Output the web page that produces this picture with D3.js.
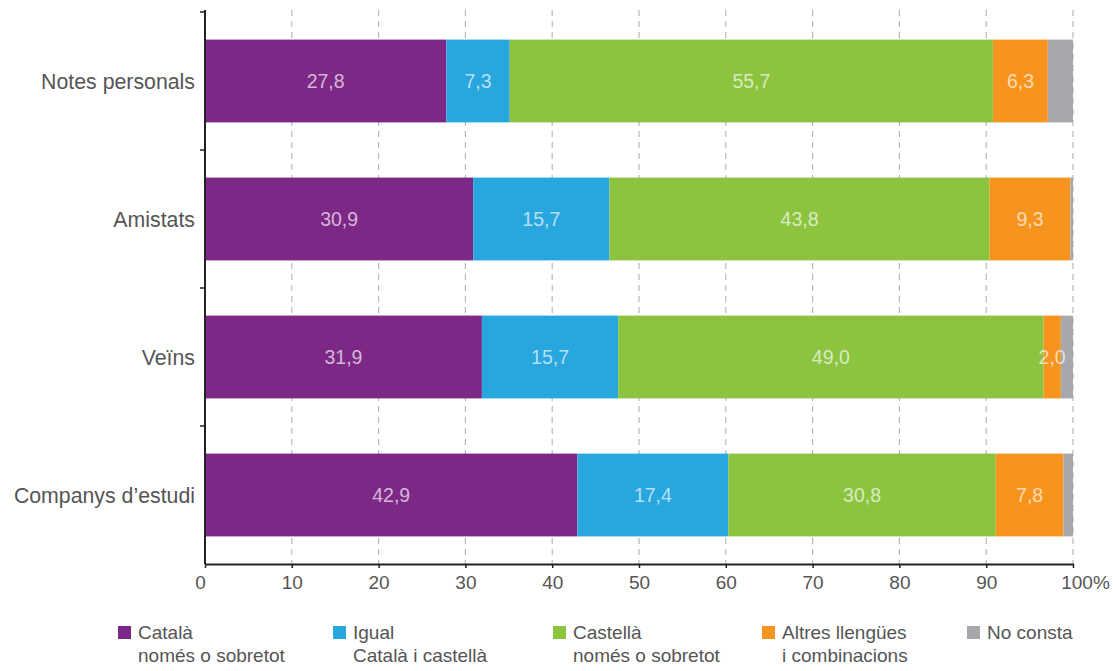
<!DOCTYPE html>
<html>
<head>
<meta charset="utf-8">
<script src="https://cdn.jsdelivr.net/npm/d3@7"></script>
<style>
  html, body { margin: 0; padding: 0; background: #fff; }
  svg { display: block; font-family: "Liberation Sans", Arial, Helvetica, sans-serif; }
</style>
</head>
<body>
<svg id="chart" width="1113" height="671"></svg>
<script>
// Categories (top to bottom)
const categories = ["Notes personals", "Amistats", "Veïns", "Companys d’estudi"];

// Series (percentages per category)
const catala   = [27.8, 30.9, 31.9, 42.9];
const igual    = [7.3, 15.7, 15.7, 17.4];
const castella = [55.7, 43.8, 49.0, 30.8];
const altres   = [6.3, 9.3, 2.0, 7.8];
const noConsta = [2.9, 0.3, 1.4, 1.1];

const seriesKeys   = ["catala", "igual", "castella", "altres", "noConsta"];
const seriesValues = [catala, igual, castella, altres, noConsta];
const seriesLine1  = ["Català", "Igual", "Castellà", "Altres llengües", "No consta"];
const seriesLine2  = ["només o sobretot", "Català i castellà", "només o sobretot", "i combinacions", ""];
const seriesColors = ["#7d2886", "#28a6de", "#8cc43f", "#f7941d", "#a7a8ab"];
// Segments whose value is printed inside the bar
const labelled     = [true, true, true, true, false];

const xTicks = [0, 10, 20, 30, 40, 50, 60, 70, 80, 90, 100];

const rows = categories.map((c, i) => {
  const r = { category: c };
  seriesKeys.forEach((k, j) => { r[k] = seriesValues[j][i]; });
  return r;
});
const stacked = d3.stack().keys(seriesKeys)(rows);

const svg = d3.select("#chart");
const plotLeft = 205, plotRight = 1073, plotTop = 10, plotBottom = 564;

const x = d3.scaleLinear().domain([0, 100]).range([plotLeft, plotRight]);
const y = d3.scaleBand().domain(categories).range([plotTop + 2, plotBottom])
  .paddingInner(0.4).paddingOuter(0.2);

// Dashed vertical gridlines
svg.append("g").selectAll("line")
  .data(xTicks.filter(t => t > 0))
  .join("line")
  .attr("x1", d => x(d)).attr("x2", d => x(d))
  .attr("y1", plotTop).attr("y2", plotBottom)
  .attr("stroke", "#b8b8b8").attr("stroke-width", 1.2)
  .attr("stroke-dasharray", "6,5");

// Stacked bars
const layers = svg.append("g").selectAll("g")
  .data(stacked).join("g")
  .attr("fill", (d, i) => seriesColors[i]);

layers.selectAll("rect")
  .data(d => d.map(s => ({ s, cat: s.data.category })))
  .join("rect")
  .attr("x", d => x(d.s[0]))
  .attr("width", d => x(d.s[1]) - x(d.s[0]))
  .attr("y", d => y(d.cat))
  .attr("height", y.bandwidth());

// Value labels inside segments
const fmt = v => d3.format(".1f")(v).replace(".", ",");
svg.append("g").selectAll("g")
  .data(stacked.filter((d, i) => labelled[i]))
  .join("g")
  .selectAll("text")
  .data(d => d.map(s => ({ s, cat: s.data.category, v: s[1] - s[0] })))
  .join("text")
  .attr("x", d => (x(d.s[0]) + x(d.s[1])) / 2)
  .attr("y", d => y(d.cat) + y.bandwidth() / 2)
  .attr("dy", "0.36em")
  .attr("text-anchor", "middle")
  .attr("font-size", 19.5)
  .attr("fill", "#ffffff")
  .attr("fill-opacity", 0.68)
  .text(d => fmt(d.v));

// X axis
const xAxis = svg.append("g")
  .attr("transform", `translate(0,${plotBottom})`)
  .call(d3.axisBottom(x).tickValues(xTicks).tickSize(4).tickSizeOuter(0)
    .tickFormat(d => d === 100 ? "100%" : d));
xAxis.select(".domain").attr("stroke", "#222").attr("stroke-width", 2);
xAxis.selectAll(".tick line").attr("stroke", "#222").attr("stroke-width", 1.5);
xAxis.selectAll(".tick text")
  .attr("font-size", 19).attr("fill", "#555").attr("y", 12).attr("dy", "0.71em")
  .attr("dx", d => d === 100 ? 12 : (d === 0 ? -5 : 0));

// Y axis (ticks on category boundaries)
const yAxisG = svg.append("g").attr("transform", `translate(${plotLeft},0)`);
yAxisG.append("line")
  .attr("x1", 0).attr("x2", 0).attr("y1", plotTop).attr("y2", plotBottom)
  .attr("stroke", "#222").attr("stroke-width", 2);
const boundaries = categories.map(c => y(c) - y.step() * y.paddingInner() / 2);
yAxisG.selectAll("line.tick")
  .data(boundaries).join("line").attr("class", "tick")
  .attr("x1", -5).attr("x2", 0).attr("y1", d => d).attr("y2", d => d)
  .attr("stroke", "#222").attr("stroke-width", 1.5);

// Category labels
svg.append("g").selectAll("text")
  .data(categories).join("text")
  .attr("x", 195)
  .attr("y", d => y(d) + y.bandwidth() / 2)
  .attr("dy", "0.36em")
  .attr("text-anchor", "end")
  .attr("font-size", 21.3)
  .attr("fill", "#555")
  .text(d => d);

// Legend
const legendX = [118, 333, 553, 762, 967];
const legend = svg.append("g").selectAll("g")
  .data(seriesKeys.map((k, i) => i)).join("g")
  .attr("transform", i => `translate(${legendX[i]},624)`);
legend.append("rect")
  .attr("x", 0).attr("y", 2).attr("width", 13).attr("height", 13)
  .attr("fill", i => seriesColors[i]);
legend.append("text")
  .attr("x", 20).attr("y", 15)
  .attr("font-size", 19).attr("fill", "#555")
  .text(i => seriesLine1[i]);
legend.append("text")
  .attr("x", 20).attr("y", 38)
  .attr("font-size", 19).attr("fill", "#555")
  .text(i => seriesLine2[i]);
</script>
</body>
</html>
